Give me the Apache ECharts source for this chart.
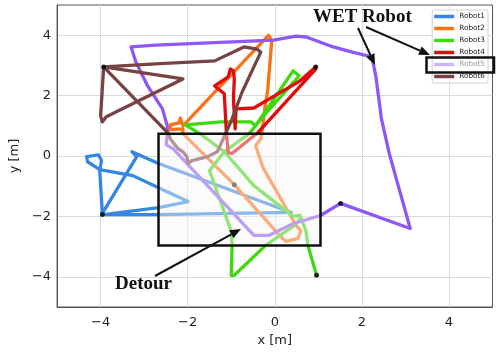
<!DOCTYPE html>
<html>
<head>
<meta charset="utf-8">
<script src="https://cdn.jsdelivr.net/npm/echarts@6/dist/echarts.min.js"></script>
<style>
  html, body { margin: 0; padding: 0; background: #fff; }
  #chart { width: 498px; height: 352px; }
</style>
</head>
<body>
<div id="chart"></div>
<script>
// 机器人名称与颜色
const robotNames = ['Robot1', 'Robot2', 'Robot3', 'Robot4', 'Robot5', 'Robot6']
const robotColors = ['#3486e2', '#fd7215', '#3ed80e', '#e10b0b', '#8f57f7', '#7a4343']

// 轨迹 [x, y]，单位 m，第一个点为起点
const robot1 = [
  [-3.96, -1.94], [-2.67, -1.94], [0.38, -1.87], [-2.67, -0.25], [-3.28, 0.14],
  [-3.17, -0.02], [-3.96, -1.90], [-4.02, -0.49], [-3.98, -0.15], [-4.05, 0.04],
  [-4.32, -0.02], [-4.30, -0.19], [-4.02, -0.45], [-3.26, -0.65], [-2.67, -1.05],
  [-1.99, -1.51], [-2.67, -1.71], [-3.93, -1.94]
]
const robot2 = [
  [-0.93, -0.95], [0.13, -2.66], [0.26, -2.83], [0.53, -2.73], [0.60, -2.47],
  [0.49, -2.30], [-0.26, -0.42], [-0.44, 0.34], [-0.32, 0.57], [-0.30, 0.74],
  [-0.23, 1.56], [-0.16, 2.22], [-0.07, 3.81], [-0.14, 4.00], [-2.11, 1.00],
  [-2.17, 1.26], [-2.20, 1.10], [-2.40, 1.03], [-2.40, 0.87], [-2.11, 0.90],
  [-2.11, 0.74], [-0.93, -0.95]
]
const robot3 = [
  [0.96, -3.95], [0.76, -2.96], [0.72, -2.50], [0.58, -1.97], [0.42, -2.00],
  [-0.48, -0.98], [-1.16, 0.14], [-1.72, 0.74], [-2.06, 1.03], [-1.23, 1.13],
  [-0.55, 1.13], [-0.44, 1.00], [0.42, 2.82], [0.56, 2.65], [-0.21, 1.40],
  [-0.59, 0.74], [-1.16, 0.14], [-1.50, -0.49], [-1.45, -0.68], [-1.00, -2.50],
  [-0.98, -2.96], [-1.00, -3.95], [-0.93, -3.95], [-0.21, -2.96], [0.42, -2.33],
  [0.60, -2.07]
]
const robot4 = [
  [0.94, 2.95], [0.58, 2.49], [-0.48, 1.59], [-0.89, 1.56], [-0.91, 0.90],
  [-0.95, 1.89], [-0.93, 2.55], [-0.95, 2.82], [-1.02, 2.88], [-1.07, 2.62],
  [-1.38, 2.32], [-1.16, 2.06], [-1.11, 0.74], [-1.07, 0.11], [-0.98, 0.08],
  [-0.48, 0.67], [-0.41, 0.74], [0.94, 2.88]
]
const robot5 = [
  [1.51, -1.57], [3.11, -2.40], [2.63, 0.08], [2.45, 1.23], [2.39, 1.89],
  [2.32, 2.65], [2.23, 3.28], [1.78, 3.44], [1.28, 3.64], [0.72, 3.94],
  [0.49, 3.97], [-0.03, 3.84], [-2.74, 3.67], [-3.30, 3.61], [-3.19, 3.11],
  [-2.92, 2.32], [-2.58, 1.56], [-2.47, 1.00], [-2.47, 0.74], [-2.49, 0.37],
  [-2.33, 0.24], [-0.48, -2.63], [-0.14, -2.63], [0.44, -2.23], [1.05, -1.97],
  [1.51, -1.57]
]
const robot6 = [
  [-3.93, 2.95], [-2.74, 3.05], [-1.38, 3.15], [-0.71, 3.61], [-0.41, 3.54],
  [-0.32, 3.44], [-0.48, 2.95], [-0.75, 2.12], [-0.98, 1.23], [-1.13, 0.74],
  [-1.32, 0.14], [-1.54, -0.02], [-1.90, -0.15], [-1.99, -0.25], [-2.02, -0.02],
  [-2.11, 0.14], [-2.22, 0.24], [-2.40, 0.57], [-2.44, 0.74], [-3.93, 2.95],
  [-2.11, 2.55], [-3.87, 1.30], [-3.96, 1.13], [-4.00, 1.33], [-3.93, 2.95]
]
const robotPaths = [robot1, robot2, robot3, robot4, robot5, robot6]

// 绕行区域 [xmin, ymin, xmax, ymax]
const detourBox = [-2.67, -2.96, 1.05, 0.74]

// 坐标轴刻度
const tickValues = [-4, -2, 0, 2, 4]

const mChart = echarts.init(document.getElementById('chart'))

const fmt = (v) => (tickValues.includes(v) ? String(v).replace('-', '\u2212') : '')

// 箭头（注释用，像素坐标）
const arrow = (x1, y1, x2, y2) => {
  const a = Math.atan2(y2 - y1, x2 - x1)
  const L = 11
  const W = 4.5
  const bx = x2 - L * Math.cos(a)
  const by = y2 - L * Math.sin(a)
  return [
    {
      type: 'line',
      z: 100,
      shape: { x1, y1, x2: bx, y2: by },
      style: { stroke: '#111', lineWidth: 2 }
    },
    {
      type: 'polygon',
      z: 100,
      shape: {
        points: [
          [x2, y2],
          [bx + W * Math.sin(a), by - W * Math.cos(a)],
          [bx - W * Math.sin(a), by + W * Math.cos(a)]
        ]
      },
      style: { fill: '#111' }
    }
  ]
}

const axisCommon = {
  type: 'value',
  min: -5,
  max: 5,
  interval: 1,
  nameLocation: 'middle',
  nameTextStyle: { fontFamily: 'DejaVu Sans', fontSize: 13, color: '#222' },
  axisLine: { show: true, onZero: false, lineStyle: { color: '#555', width: 1 } },
  axisTick: { show: false },
  axisLabel: { formatter: fmt, fontFamily: 'DejaVu Sans', fontSize: 13, color: '#222' },
  splitLine: {
    show: true,
    lineStyle: { color: ['rgba(0,0,0,0)', '#d6dddd'], width: 1 }
  }
}

const series = robotPaths.map((path, i) => ({
  name: robotNames[i],
  type: 'line',
  data: path,
  symbol: 'none',
  z: 2,
  color: robotColors[i],
  lineStyle: { width: 3.3, color: robotColors[i], cap: 'round', join: 'round' }
}))

// 起点
series.push({
  type: 'scatter',
  data: robotPaths.map((p) => p[0]),
  symbolSize: 5,
  itemStyle: { color: '#000' },
  z: 3,
  silent: true
})

// 绕行区域：半透明白色覆盖在轨迹上
series.push({
  type: 'custom',
  z: 5,
  silent: true,
  data: [detourBox],
  renderItem: (params, api) => {
    const p0 = api.coord([api.value(0), api.value(3)])
    const p1 = api.coord([api.value(2), api.value(1)])
    return {
      type: 'rect',
      shape: { x: p0[0], y: p0[1], width: p1[0] - p0[0], height: p1[1] - p0[1] },
      style: { fill: 'rgba(246,246,246,0.45)', stroke: '#111', lineWidth: 2.5 }
    }
  }
})

const options = {
  animation: false,
  grid: { left: 50, right: 5.5, top: 5, bottom: 45, show: true, borderColor: '#555', borderWidth: 1 },
  xAxis: { ...axisCommon, name: 'x [m]', nameGap: 25, axisLabel: { ...axisCommon.axisLabel, margin: 9 } },
  yAxis: { ...axisCommon, name: 'y [m]', nameGap: 35, axisLabel: { ...axisCommon.axisLabel, margin: 6 } },
  legend: {
    orient: 'vertical',
    right: 10,
    top: 10,
    icon: 'rect',
    itemWidth: 20,
    itemHeight: 3.5,
    itemGap: 5,
    padding: [3, 3, 3, 2],
    backgroundColor: 'rgba(255,255,255,0.85)',
    borderColor: '#d0d0d0',
    borderWidth: 1,
    borderRadius: 2,
    textStyle: { fontFamily: 'DejaVu Sans', fontSize: 7.3, color: '#222' },
    data: robotNames.map((n) =>
      n === 'Robot5'
        ? { name: n, itemStyle: { color: '#cdb6f7' }, textStyle: { color: '#9a9a9a' } }
        : n
    )
  },
  series,
  graphic: [
    {
      type: 'text',
      z: 100,
      left: 313,
      top: 8,
      style: { text: 'WET Robot', font: 'bold 19px "Liberation Serif"', fill: '#111' }
    },
    ...arrow(358, 28, 375, 65),
    ...arrow(366, 27, 430, 55),
    {
      type: 'rect',
      z: 100,
      shape: { x: 426.5, y: 57.5, width: 67.5, height: 15 },
      style: { fill: 'none', stroke: '#111', lineWidth: 2.5 }
    },
    {
      type: 'text',
      z: 100,
      left: 115,
      top: 275,
      style: { text: 'Detour', font: 'bold 19px "Liberation Serif"', fill: '#111' }
    },
    ...arrow(155, 276, 241, 229)
  ]
}

mChart.setOption(options)
window.addEventListener('resize', () => {
  mChart.resize()
})
</script>
</body>
</html>
